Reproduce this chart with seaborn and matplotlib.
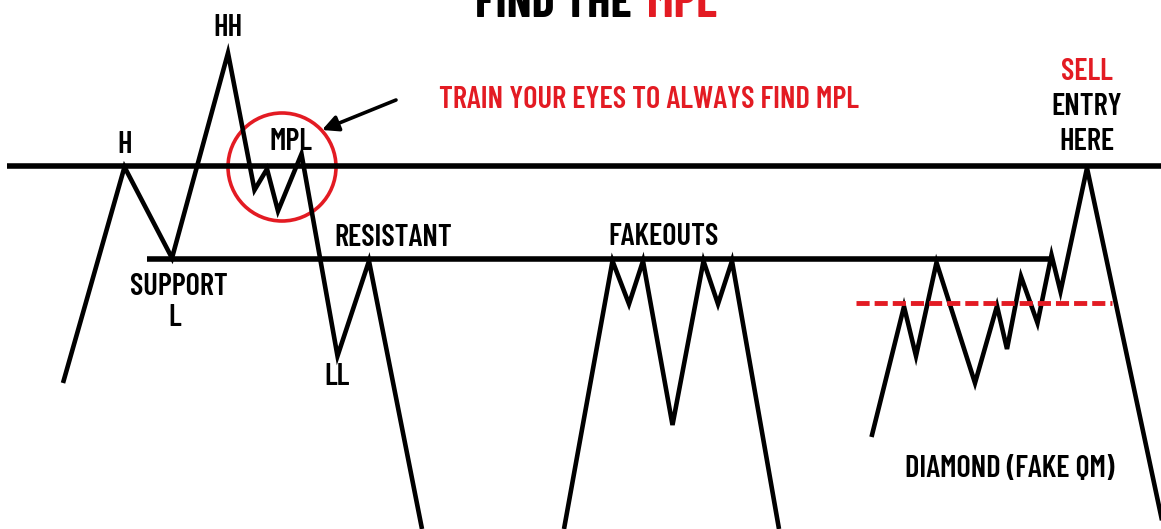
import matplotlib
matplotlib.use("Agg")
import matplotlib.pyplot as plt
import seaborn as sns
import pandas as pd
from matplotlib import font_manager
from matplotlib.patches import Circle

# ---------------- data (picture coordinates, y grows downward) ----------------
path1_x = [63, 124.5, 172, 228, 254.5, 267, 278, 301.5, 337.5, 369, 422]
path1_y = [383, 167, 258, 53, 190, 169, 211, 154, 356, 261, 529]

path2_x = [564, 612.5, 629, 643, 672.5, 703.5, 718, 732, 779]
path2_y = [529, 261, 304, 261, 425, 261, 304, 261, 529]

path3_x = [871.5, 904, 916, 936.5, 975, 997, 1007, 1021, 1037.5, 1051.5, 1060.5, 1087, 1163]
path3_y = [437, 306.5, 356, 262.5, 383, 306, 349, 276.5, 323, 255, 291.5, 168, 525]

mpl_level_y = 166
mpl_level_x = [7, 1161]
sr_level_y = 259
sr_level_x = [147, 1052]
diamond_level_y = 303
diamond_level_x = [856, 1112]

circle_center = (282, 167)
circle_radius = 54

labels = ["HH", "H", "MPL", "RESISTANT", "SUPPORT", "L", "LL", "FAKEOUTS",
          "SELL", "ENTRY", "HERE", "DIAMOND (FAKE QM)"]
label_x = [228, 124.5, 291, 393, 178.5, 175, 337, 664, 1087, 1087, 1087, 1010]
label_y = [36.5, 153, 150, 246.5, 295, 326, 385, 245, 80, 115, 150.5, 476.5]
label_color = ["black", "black", "black", "black", "black", "black", "black", "black",
               "red", "black", "black", "black"]

note_text = "TRAIN YOUR EYES TO ALWAYS FIND MPL"
title_left = "FIND THE"
title_right = "MPL"

RED = "#e31b23"

# ---------------- font ----------------
names = {f.name for f in font_manager.fontManager.ttflist}
fam = "DejaVu Sans"
for cand in ["Barlow Condensed", "Barlow Semi Condensed", "Roboto Condensed"]:
    if cand in names:
        fam = cand
        break

sns.set_theme(style="white")
plt.rcParams["font.family"] = [fam, "DejaVu Sans"]

fig = plt.figure(figsize=(11.61, 5.29), dpi=100)
ax = fig.add_axes([0, 0, 1, 1])
ax.set_xlim(0, 1161)
ax.set_ylim(529, 0)
ax.axis("off")

lw_path = 3.3
for px, py in [(path1_x, path1_y), (path2_x, path2_y), (path3_x, path3_y)]:
    df = pd.DataFrame({"x": px, "y": py})
    sns.lineplot(data=df, x="x", y="y", sort=False, estimator=None, ax=ax,
                 color="black", linewidth=lw_path, solid_joinstyle="miter",
                 solid_capstyle="butt")

ax.plot(mpl_level_x, [mpl_level_y] * 2, color="black", lw=4.0, solid_capstyle="butt")
ax.plot(sr_level_x, [sr_level_y] * 2, color="black", lw=4.0, solid_capstyle="butt")
ax.plot(diamond_level_x, [diamond_level_y] * 2, color=RED, lw=3.5,
        dashes=(2.7, 1.03), dash_capstyle="butt")

ax.add_patch(Circle(circle_center, circle_radius, fill=False, ec=RED, lw=2.6))
ax.annotate("", xy=(322, 130), xytext=(396, 100),
            arrowprops=dict(arrowstyle="-|>,head_length=0.8,head_width=0.4",
                            color="black", lw=2.6, shrinkA=0, shrinkB=0))

fs = 22
for t, x, y, c in zip(labels, label_x, label_y, label_color):
    ax.text(x, y, t, ha="center", va="baseline", fontsize=fs,
            color=RED if c == "red" else c, fontweight="semibold")

ax.text(649, 108, note_text, ha="center", va="baseline", fontsize=fs, color=RED,
        fontweight="semibold")
ax.text(632, 17, title_left, ha="right", va="baseline", fontsize=35, color="black",
        fontweight="bold")
ax.text(647, 17, title_right, ha="left", va="baseline", fontsize=35, color=RED,
        fontweight="bold")

fig.savefig("out.png", dpi=100)
